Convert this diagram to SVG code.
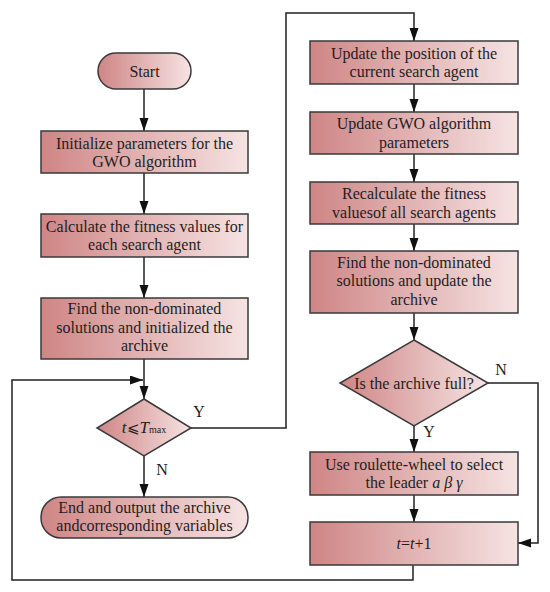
<svg xmlns="http://www.w3.org/2000/svg" width="550" height="592" viewBox="0 0 550 592">
<defs>
<linearGradient id="g" x1="0" y1="0" x2="1" y2="0">
<stop offset="0" stop-color="#cf8585"/>
<stop offset="1" stop-color="#f6e3e3"/>
</linearGradient>
<marker id="ah" markerUnits="userSpaceOnUse" markerWidth="14" markerHeight="10" refX="13" refY="4.5" orient="auto">
<path d="M0,0 L13,4.5 L0,9 z" fill="#111"/>
</marker>
<style>
.n{fill:url(#g);stroke:#3a3a3a;stroke-width:1.5}
text{font-family:"Liberation Serif","Times New Roman",serif;font-size:16px;fill:#1e1e1e;text-anchor:middle}
.c{fill:none;stroke:#222;stroke-width:1.5}
.a{marker-end:url(#ah)}
.i{font-style:italic}
</style>
</defs>
<rect width="550" height="592" fill="#fff"/>
<g id="connectors">
<path class="c a" d="M144,89 V131"/>
<path class="c a" d="M144,173 V214"/>
<path class="c a" d="M144,257 V298"/>
<path class="c a" d="M144,359 V399"/>
<path class="c a" d="M413,565 V580 H12 V380 H143"/>
<path class="c a" d="M191,428 H286 V13 H414 V41"/>
<path class="c a" d="M144,456 V497"/>
<path class="c a" d="M414,84 V112"/>
<path class="c a" d="M414,154 V182"/>
<path class="c a" d="M414,224 V251"/>
<path class="c a" d="M414,313 V340"/>
<path class="c a" d="M414,426 V452"/>
<path class="c a" d="M414,495 V522"/>
<path class="c a" d="M488,383 H538 V543 H518"/>
<text x="199" y="417">Y</text>
<text x="162" y="475">N</text>
<text x="501" y="375">N</text>
<text x="429" y="437">Y</text>
</g>
<g id="start">
<rect class="n" x="98" y="53" width="93" height="36" rx="18"/>
<text x="144.5" y="76.5">Start</text>
</g>
<g id="init">
<rect class="n" x="41" y="131" width="207" height="42"/>
<text x="144.5" y="148.5">Initialize parameters for the</text>
<text x="144.5" y="167">GWO algorithm</text>
</g>
<g id="calc">
<rect class="n" x="41" y="214" width="207" height="43"/>
<text x="144.5" y="231.5">Calculate the fitness values for</text>
<text x="144.5" y="250">each search agent</text>
</g>
<g id="find1">
<rect class="n" x="41" y="298" width="207" height="61"/>
<text x="144.5" y="314">Find the non-dominated</text>
<text x="144.5" y="332.5">solutions and initialized the</text>
<text x="144.5" y="351">archive</text>
</g>
<g id="cond1">
<polygon class="n" points="144,399 191,428 144,456 97,428"/>
<text x="144" y="433" style="font-size:17px"><tspan class="i">t</tspan><tspan style="font-family:'DejaVu Serif',serif;font-size:15px">⩽</tspan><tspan class="i">T</tspan><tspan style="font-size:10px">max</tspan></text>
</g>
<g id="end">
<rect class="n" x="41" y="497" width="207" height="41" rx="20"/>
<text x="144.5" y="513">End and output the archive</text>
<text x="144.5" y="531">andcorresponding variables</text>
</g>
<g id="updpos">
<rect class="n" x="310" y="41" width="208" height="43"/>
<text x="414" y="58.5">Update the position of the</text>
<text x="414" y="77">current search agent</text>
</g>
<g id="updgwo">
<rect class="n" x="310" y="112" width="208" height="42"/>
<text x="414" y="129">Update GWO algorithm</text>
<text x="414" y="148">parameters</text>
</g>
<g id="recalc">
<rect class="n" x="310" y="182" width="208" height="42"/>
<text x="414" y="199">Recalculate the fitness</text>
<text x="414" y="218">valuesof all search agents</text>
</g>
<g id="find2">
<rect class="n" x="310" y="251" width="208" height="62"/>
<text x="414" y="267.5">Find the non-dominated</text>
<text x="414" y="286">solutions and update the</text>
<text x="414" y="305">archive</text>
</g>
<g id="cond2">
<polygon class="n" points="414,340 488,383 414,426 340,383"/>
<text x="414" y="388.5">Is the archive full?</text>
</g>
<g id="roulette">
<rect class="n" x="310" y="452" width="208" height="43"/>
<text x="414" y="469.5">Use roulette-wheel to select</text>
<text x="414" y="488">the leader <tspan class="i">a β γ</tspan></text>
</g>
<g id="incr">
<rect class="n" x="310" y="522" width="208" height="43"/>
<text x="414" y="548.5"><tspan class="i">t</tspan>=<tspan class="i">t</tspan>+1</text>
</g>
</svg>
